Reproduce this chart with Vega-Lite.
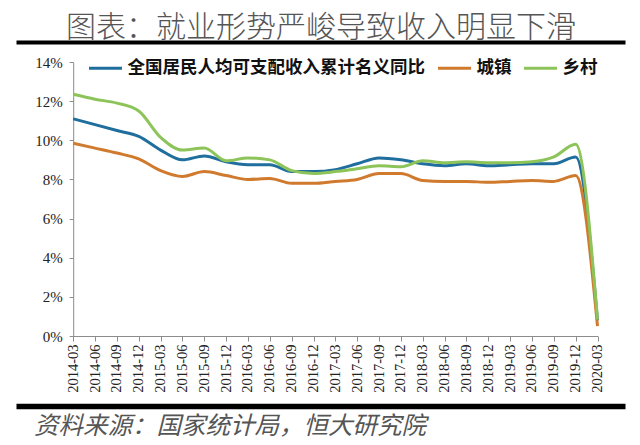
{
  "$schema": "https://vega.github.io/schema/vega-lite/v6.json",
  "background": "white",
  "padding": {"left": 13, "top": 12, "right": 18, "bottom": 10},
  "spacing": 9,
  "config": {"view": {"stroke": null}},
  "datasets": {
    "income": [
      {"date": "2014-03", "全国居民人均可支配收入累计名义同比": 11.1, "城镇": 9.85, "乡村": 12.35},
      {"date": "2014-06", "全国居民人均可支配收入累计名义同比": 10.8, "城镇": 9.6, "乡村": 12.1},
      {"date": "2014-09", "全国居民人均可支配收入累计名义同比": 10.5, "城镇": 9.35, "乡村": 11.9},
      {"date": "2014-12", "全国居民人均可支配收入累计名义同比": 10.2, "城镇": 9.05, "乡村": 11.5},
      {"date": "2015-03", "全国居民人均可支配收入累计名义同比": 9.5, "城镇": 8.45, "乡村": 10.15},
      {"date": "2015-06", "全国居民人均可支配收入累计名义同比": 9.0, "城镇": 8.15, "乡村": 9.5},
      {"date": "2015-09", "全国居民人均可支配收入累计名义同比": 9.2, "城镇": 8.4, "乡村": 9.6},
      {"date": "2015-12", "全国居民人均可支配收入累计名义同比": 8.9, "城镇": 8.2, "乡村": 8.95},
      {"date": "2016-03", "全国居民人均可支配收入累计名义同比": 8.75, "城镇": 8.0, "乡村": 9.1},
      {"date": "2016-06", "全国居民人均可支配收入累计名义同比": 8.75, "城镇": 8.05, "乡村": 9.0},
      {"date": "2016-09", "全国居民人均可支配收入累计名义同比": 8.4, "城镇": 7.8, "乡村": 8.45},
      {"date": "2016-12", "全国居民人均可支配收入累计名义同比": 8.4, "城镇": 7.8, "乡村": 8.3},
      {"date": "2017-03", "全国居民人均可支配收入累计名义同比": 8.5, "城镇": 7.9, "乡村": 8.4},
      {"date": "2017-06", "全国居民人均可支配收入累计名义同比": 8.8, "城镇": 8.0, "乡村": 8.55},
      {"date": "2017-09", "全国居民人均可支配收入累计名义同比": 9.1, "城镇": 8.3, "乡村": 8.7},
      {"date": "2017-12", "全国居民人均可支配收入累计名义同比": 9.0, "城镇": 8.3, "乡村": 8.65},
      {"date": "2018-03", "全国居民人均可支配收入累计名义同比": 8.8, "城镇": 7.95, "乡村": 8.95},
      {"date": "2018-06", "全国居民人均可支配收入累计名义同比": 8.7, "城镇": 7.9, "乡村": 8.85},
      {"date": "2018-09", "全国居民人均可支配收入累计名义同比": 8.8, "城镇": 7.9, "乡村": 8.9},
      {"date": "2018-12", "全国居民人均可支配收入累计名义同比": 8.7, "城镇": 7.85, "乡村": 8.85},
      {"date": "2019-03", "全国居民人均可支配收入累计名义同比": 8.75, "城镇": 7.9, "乡村": 8.85},
      {"date": "2019-06", "全国居民人均可支配收入累计名义同比": 8.8, "城镇": 7.95, "乡村": 8.9},
      {"date": "2019-09", "全国居民人均可支配收入累计名义同比": 8.8, "城镇": 7.9, "乡村": 9.15},
      {"date": "2019-12", "全国居民人均可支配收入累计名义同比": 9.15, "城镇": 8.2, "乡村": 9.8},
      {"date": "2020-03", "全国居民人均可支配收入累计名义同比": 0.8, "城镇": 0.5, "乡村": 0.85}
    ],
    "frame": [{"edge": 0}, {"edge": 1}]
  },
  "vconcat": [
    {
      "width": 609,
      "height": 274,
      "layer": [
        {
          "data": {"name": "income"},
          "transform": [
            {"fold": ["全国居民人均可支配收入累计名义同比", "城镇", "乡村"], "as": ["series", "value"]}
          ],
          "mark": {"type": "line", "interpolate": "monotone", "strokeWidth": 3},
          "encoding": {
            "x": {
              "field": "date",
              "type": "ordinal",
              "sort": null,
              "scale": {"type": "point", "range": [57.2, 581.5], "padding": 0},
              "axis": {
                "orient": "bottom",
                "title": null,
                "labelAngle": -90,
                "labelFont": "Liberation Serif",
                "labelFontSize": 14.5,
                "labelColor": "#222222",
                "labelPadding": 3,
                "tickSize": 5,
                "tickColor": "#8c8c8c",
                "domainColor": "#8c8c8c",
                "grid": false
              }
            },
            "y": {
              "field": "value",
              "type": "quantitative",
              "scale": {"domain": [0, 14]},
              "axis": {
                "values": [0, 2, 4, 6, 8, 10, 12, 14],
                "labelExpr": "datum.value + '%'",
                "offset": -57.2,
                "title": null,
                "labelFont": "Liberation Serif",
                "labelFontSize": 15,
                "labelColor": "#222222",
                "labelPadding": 7,
                "tickSize": 4,
                "tickColor": "#8c8c8c",
                "domainColor": "#8c8c8c",
                "grid": false
              }
            },
            "color": {
              "field": "series",
              "type": "nominal",
              "scale": {
                "domain": ["全国居民人均可支配收入累计名义同比", "城镇", "乡村"],
                "range": ["#1f6e9e", "#d07a2e", "#8dc45a"]
              },
              "legend": {
                "orient": "none",
                "legendX": 71.5,
                "legendY": -12,
                "direction": "horizontal",
                "title": null,
                "symbolType": "stroke",
                "symbolSize": 1089,
                "symbolStrokeWidth": 3,
                "labelFont": "Noto Sans CJK SC",
                "labelFontSize": 17.5,
                "labelFontWeight": "bold",
                "labelColor": "#111111",
                "labelOffset": 4,
                "columnPadding": 6,
                "labelLimit": 0
              }
            }
          }
        },
        {
          "data": {"name": "frame"},
          "mark": {"type": "point", "opacity": 0},
          "encoding": {
            "x": {
              "field": "edge",
              "type": "quantitative",
              "scale": {"domain": [0, 1], "nice": false, "zero": false},
              "axis": {
                "orient": "top",
                "offset": 20,
                "domain": true,
                "domainColor": "black",
                "domainOpacity": 1,
                "domainWidth": 4,
                "domainCap": "butt",
                "ticks": false,
                "labels": false,
                "grid": false,
                "title": "图表：就业形势严峻导致收入明显下滑",
                "titleFont": "Noto Sans CJK SC",
                "titleFontSize": 30,
                "titleFontWeight": 300,
                "titleColor": "#555555",
                "titlePadding": 0
              }
            }
          }
        }
      ],
      "resolve": {"scale": {"x": "independent"}, "axis": {"x": "independent"}}
    },
    {
      "width": 609,
      "height": 1,
      "data": {"name": "frame"},
      "mark": {"type": "point", "opacity": 0},
      "encoding": {
        "x": {
          "field": "edge",
          "type": "quantitative",
          "scale": {"domain": [0, 1], "nice": false, "zero": false},
          "axis": {
            "orient": "bottom",
            "domain": true,
            "domainColor": "black",
            "domainOpacity": 1,
            "domainWidth": 5.5,
            "domainCap": "butt",
            "ticks": false,
            "labels": false,
            "grid": false,
            "title": "资料来源：国家统计局，恒大研究院",
            "titleFont": "Noto Sans CJK SC",
            "titleFontSize": 24.5,
            "titleFontStyle": "italic",
            "titleFontWeight": "normal",
            "titleColor": "#555555",
            "titleAnchor": "start",
            "titleAlign": "left",
            "titleBaseline": "top",
            "titleX": 17.5,
            "titlePadding": 8
          }
        }
      }
    }
  ]
}
